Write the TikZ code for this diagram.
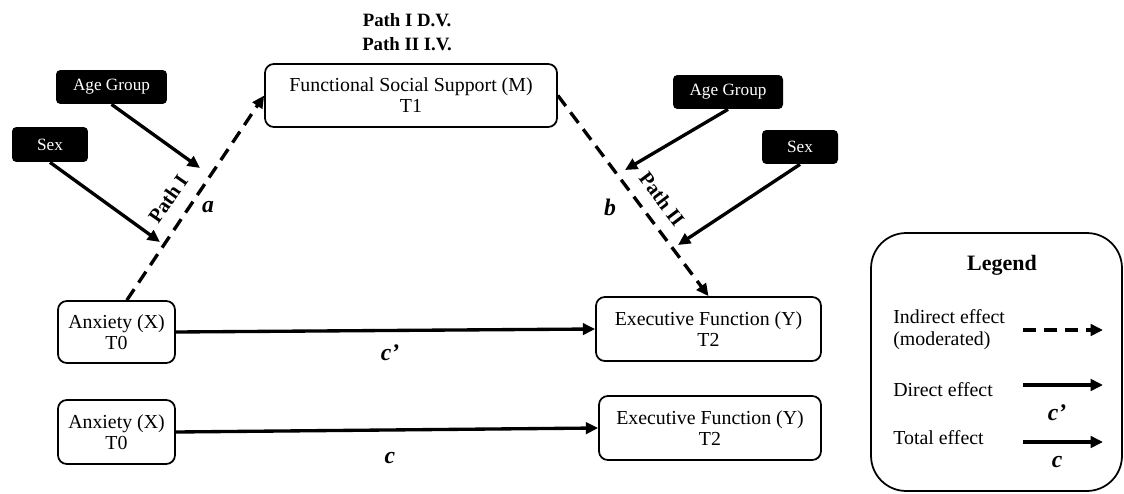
\documentclass[tikz,border=0pt]{standalone}
\usepackage{fontspec}
\setmainfont{Liberation Serif}
\usepackage{tikz}
\usetikzlibrary{arrows.meta, positioning, calc}

\begin{document}
\begin{tikzpicture}[x=0.02cm, y=-0.02cm,
  var/.style={draw, line width=1pt, rounded corners=5pt, align=center,
    inner sep=0pt, font=\fontsize{11.3}{12}\selectfont},
  mod/.style={fill=black, text=white, rounded corners=2.5pt, inner sep=0pt,
    font=\fontsize{9.8}{11}\selectfont},
  eff/.style={line width=1.9pt, -{Triangle[length=7pt,width=6.5pt]}},
  ind/.style={eff, dash pattern=on 7.5pt off 4.5pt},
  coef/.style={font=\fontsize{13.5}{14}\selectfont\bfseries\itshape},
  pathlbl/.style={font=\fontsize{11.5}{11.5}\selectfont\bfseries}]
  \useasboundingbox (0,0) rectangle (1124,493);

  % Variables
  \node[var, minimum width=5.84cm, minimum height=1.26cm] (fss) at (411,95.5)
    {Functional Social Support (M)\\T1};
  \node[font=\fontsize{10.7}{13.6}\selectfont\bfseries, align=center] (title) at (407,32)
    {Path I D.V.\\Path II I.V.};
  \node[var, minimum width=2.34cm, minimum height=1.24cm] (anx1) at (116.5,332) {Anxiety (X)\\T0};
  \node[var, minimum width=2.34cm, minimum height=1.28cm] (anx2) at (116.5,432) {Anxiety (X)\\T0};
  \node[var, minimum width=4.5cm, minimum height=1.28cm] (exec1) at (708.5,329) {Executive Function (Y)\\T2};
  \node[var, minimum width=4.44cm, minimum height=1.28cm] (exec2) at (710,428) {Executive Function (Y)\\T2};

  % Moderators
  \node[mod, minimum width=2.22cm, minimum height=0.68cm] (ageL) at (111.5,87) {Age Group};
  \node[mod, minimum width=1.52cm, minimum height=0.7cm] (sexL) at (50,144.5) {Sex};
  \node[mod, minimum width=2.2cm, minimum height=0.68cm] (ageR) at (728,92) {Age Group};
  \node[mod, minimum width=1.52cm, minimum height=0.68cm] (sexR) at (800,147) {Sex};

  % Indirect paths
  \draw[ind] (anx1.72) -- (fss.west);
  \draw[ind] (fss.east) -- (exec1.north);
  \node[pathlbl, rotate=55] (p1) at (168,199) {Path I};
  \node[pathlbl, rotate=-53] (p2) at (662,199) {Path II};
  \node[coef] (a) at (208,207) {a};
  \node[coef] (b) at (610,207) {b};

  % Moderation arrows
  \coordinate (mAL) at (200,168);
  \coordinate (mSL) at (160,242);
  \coordinate (mAR) at (625,170);
  \coordinate (mSR) at (678,245);
  \foreach \s/\t in {ageL/mAL, sexL/mSL, ageR/mAR, sexR/mSR}
    \draw[eff] (\s.south) -- (\t);

  % Direct and total effect
  \draw[eff] (anx1.east) -- (exec1.west);
  \node[coef] (cp) at (390,353) {c’};
  \draw[eff] (anx2.east) -- (exec2.west);
  \node[coef] (c) at (390,458) {c};

  % Legend
  \node[draw, line width=1pt, rounded corners=20pt, minimum width=5.02cm,
    minimum height=5.16cm] (legend) at (996.5,362) {};
  \node[font=\fontsize{12.5}{13}\selectfont\bfseries] (lgtitle) at (1002,265) {Legend};
  \node[font=\fontsize{11.3}{12.5}\selectfont, align=left, anchor=west, inner sep=0pt] (l1) at (893,330)
    {Indirect effect\\(moderated)};
  \node[font=\fontsize{11.3}{12}\selectfont, anchor=west, inner sep=0pt] (l2) at (893,390) {Direct effect};
  \node[font=\fontsize{11.3}{12}\selectfont, anchor=west, inner sep=0pt] (l3) at (893,438) {Total effect};
  \foreach \n/\y in {1/330, 2/385, 3/442} {
    \coordinate (ls\n) at (1023,\y);
    \coordinate (le\n) at (1103,\y);
  }
  \draw[ind] (ls1) -- (le1);
  \draw[eff] (ls2) -- (le2);
  \draw[eff] (ls3) -- (le3);
  \node[coef] (lcp) at (1057,413) {c’};
  \node[coef] (lc) at (1057,462) {c};
\end{tikzpicture}
\end{document}
